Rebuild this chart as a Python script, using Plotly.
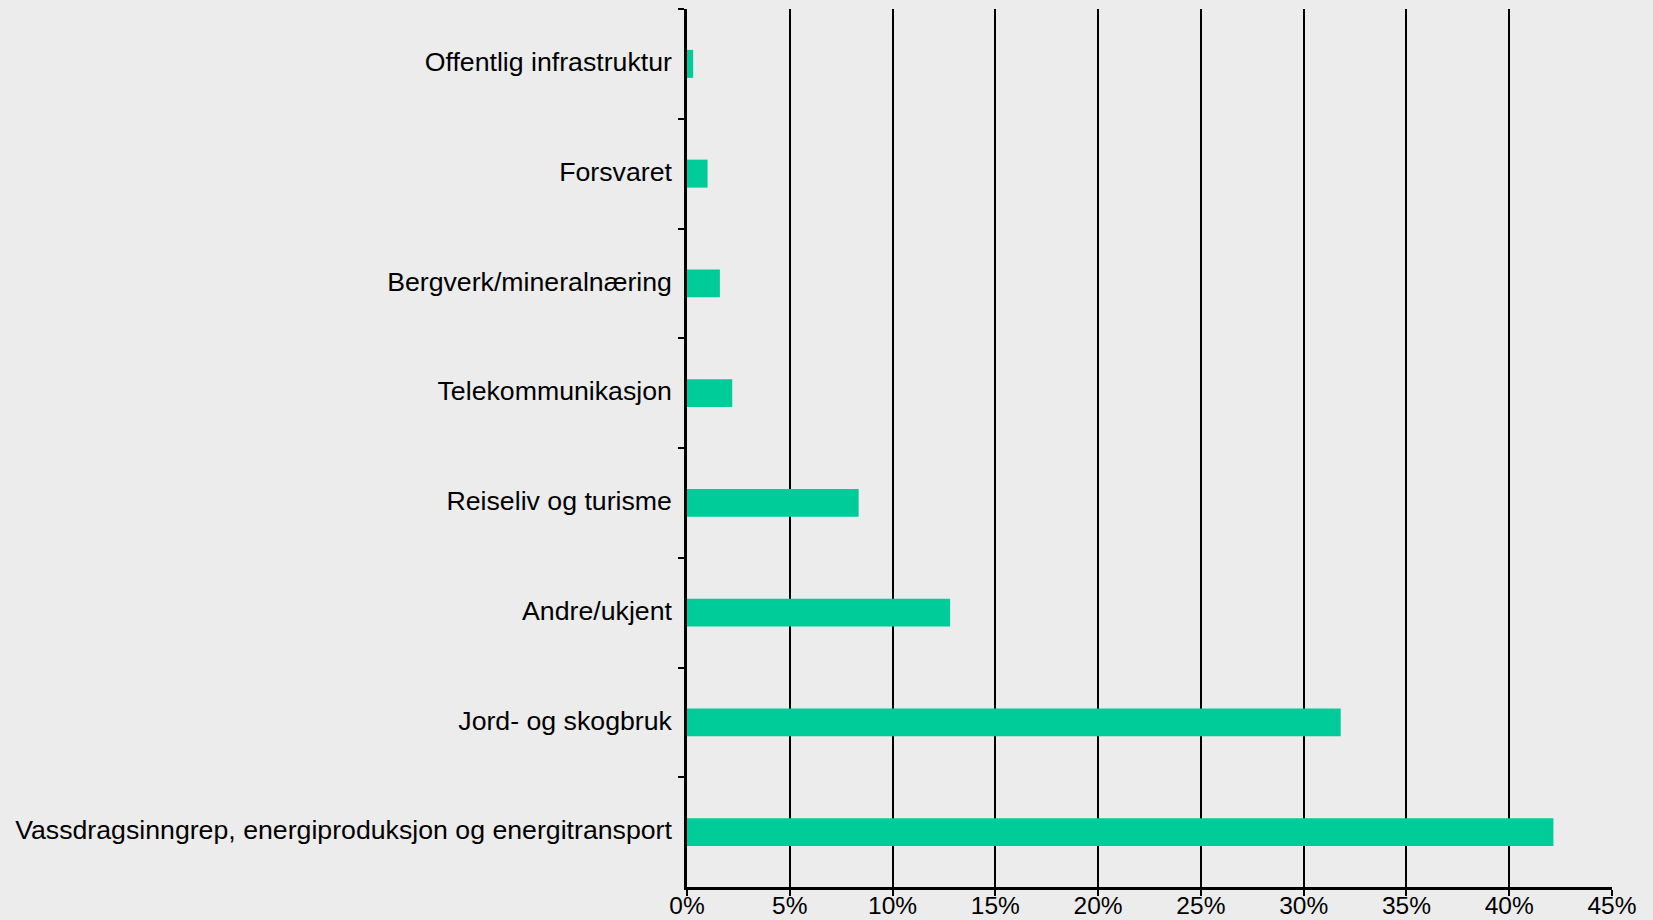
import plotly.graph_objects as go

categories = [
    "Offentlig infrastruktur",
    "Forsvaret",
    "Bergverk/mineralnæring",
    "Telekommunikasjon",
    "Reiseliv og turisme",
    "Andre/ukjent",
    "Jord- og skogbruk",
    "Vassdragsinngrep, energiproduksjon og energitransport",
]
shares = [0.3, 1.0, 1.6, 2.2, 8.35, 12.8, 31.8, 42.15]
x_ticks = [0, 5, 10, 15, 20, 25, 30, 35, 40, 45]

BG = "#ececec"
BAR = "#00cc99"

fig = go.Figure(
    go.Bar(
        y=categories,
        x=shares,
        orientation="h",
        marker=dict(color=BAR, line=dict(width=0)),
        width=0.255,
        hoverinfo="x+y",
    )
)

fig.update_layout(
    width=1653,
    height=920,
    margin=dict(l=687, r=41, t=9, b=33),
    paper_bgcolor=BG,
    plot_bgcolor=BG,
    showlegend=False,
    font=dict(family="Liberation Sans, Arial, sans-serif", color="#000000"),
)

fig.update_xaxes(
    range=[0, 45],
    tickvals=x_ticks,
    ticktext=[f"{v}%" for v in x_ticks],
    showgrid=True,
    gridcolor="#000000",
    gridwidth=2,
    zeroline=False,
    showline=True,
    linecolor="#000000",
    linewidth=3,
    ticks="outside",
    ticklen=6,
    tickwidth=2,
    tickcolor="#000000",
    tickfont=dict(size=24.5, color="#000000"),
    ticklabelstandoff=-11,
    automargin=False,
    fixedrange=True,
)

fig.update_yaxes(
    categoryorder="array",
    categoryarray=categories,
    autorange="reversed",
    showgrid=False,
    zeroline=False,
    showline=True,
    linecolor="#000000",
    linewidth=2.5,
    ticks="outside",
    tickson="boundaries",
    ticklen=6,
    tickwidth=2,
    tickcolor="#000000",
    tickfont=dict(size=26.7, color="#000000"),
    ticklabelstandoff=7,
    ticklabelshift=2,
    automargin=False,
    fixedrange=True,
)

fig.write_html(
    "out.html",
    config={"displayModeBar": False},
    post_script="document.body.style.margin='0';document.body.style.padding='0';"
                "document.body.style.background='#ececec';"
                "document.documentElement.style.overflow='hidden';",
)
